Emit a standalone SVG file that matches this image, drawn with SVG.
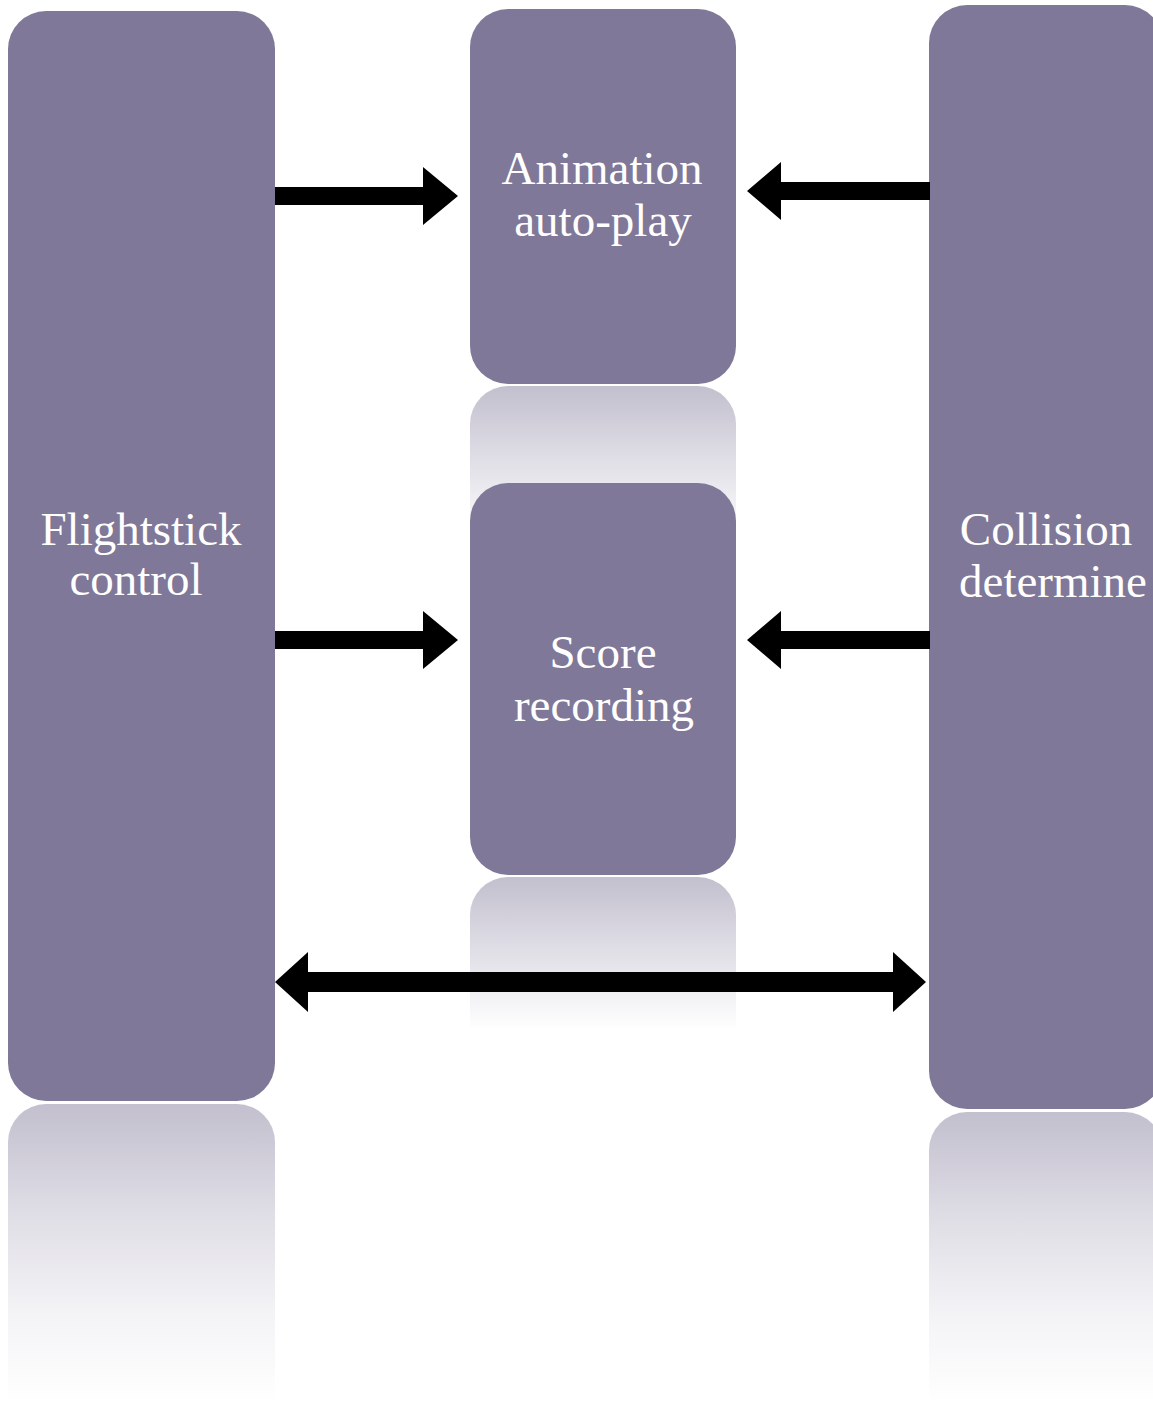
<svg xmlns="http://www.w3.org/2000/svg" width="1153" height="1403" viewBox="0 0 1153 1403">
<style>
.box{fill:#7f7898}
.lbl{font-family:"Liberation Serif","Times New Roman",serif;font-size:47px;fill:#ffffff;text-anchor:middle}
.arr{fill:#000000}
</style>
<defs>
<linearGradient id="reflLong" x1="0" y1="0" x2="0" y2="1">
<stop offset="0" stop-color="#7f7898" stop-opacity="0.47"/>
<stop offset="0.42" stop-color="#7f7898" stop-opacity="0.22"/>
<stop offset="0.7" stop-color="#7f7898" stop-opacity="0.09"/>
<stop offset="1" stop-color="#7f7898" stop-opacity="0"/>
</linearGradient>
<linearGradient id="reflShort" x1="0" y1="0" x2="0" y2="1">
<stop offset="0" stop-color="#7f7898" stop-opacity="0.47"/>
<stop offset="1" stop-color="#7f7898" stop-opacity="0"/>
</linearGradient>
</defs>
<rect width="1153" height="1403" fill="#ffffff"/>

<g id="reflections">
<path d="M8,1142 A38,38 0 0 1 46,1104 L237,1104 A38,38 0 0 1 275,1142 L275,1403 L8,1403 Z" fill="url(#reflLong)"/>
<path d="M929,1150 A38,38 0 0 1 967,1112 L1125,1112 A38,38 0 0 1 1163,1150 L1163,1403 L929,1403 Z" fill="url(#reflLong)"/>
<path d="M470,424 A38,38 0 0 1 508,386 L698,386 A38,38 0 0 1 736,424 L736,540 L470,540 Z" fill="url(#reflShort)"/>
<path d="M470,915 A38,38 0 0 1 508,877 L698,877 A38,38 0 0 1 736,915 L736,1030 L470,1030 Z" fill="url(#reflShort)"/>
</g>

<g id="node-flightstick">
<rect class="box" x="8" y="11" width="267" height="1090" rx="38" ry="38"/>
<text class="lbl" x="141" y="545">Flightstick</text>
<text class="lbl" x="136" y="595">control</text>
</g>

<g id="node-animation">
<rect class="box" x="470" y="9" width="266" height="375" rx="38" ry="38"/>
<text class="lbl" x="602" y="184">Animation</text>
<text class="lbl" x="603" y="236">auto-play</text>
</g>

<g id="node-score">
<rect class="box" x="470" y="483" width="266" height="392" rx="38" ry="38"/>
<text class="lbl" x="603" y="668">Score</text>
<text class="lbl" x="604" y="721">recording</text>
</g>

<g id="node-collision">
<rect class="box" x="929" y="5" width="234" height="1104" rx="38" ry="38"/>
<text class="lbl" x="1046" y="545">Collision</text>
<text class="lbl" x="1053" y="597">determine</text>
</g>

<g id="connectors">
<polygon class="arr" points="275,187 423,187 423,167 458,196 423,225 423,205 275,205"/>
<polygon class="arr" points="930,182 781,182 781,162 747,191 781,220 781,200 930,200"/>
<polygon class="arr" points="275,631 423,631 423,611 458,640 423,669 423,649 275,649"/>
<polygon class="arr" points="930,631 781,631 781,611 747,640 781,669 781,649 930,649"/>
<polygon class="arr" points="275,982 308,952 308,972 893,972 893,952 926,982 893,1012 893,992 308,992 308,1012"/>
</g>
</svg>
